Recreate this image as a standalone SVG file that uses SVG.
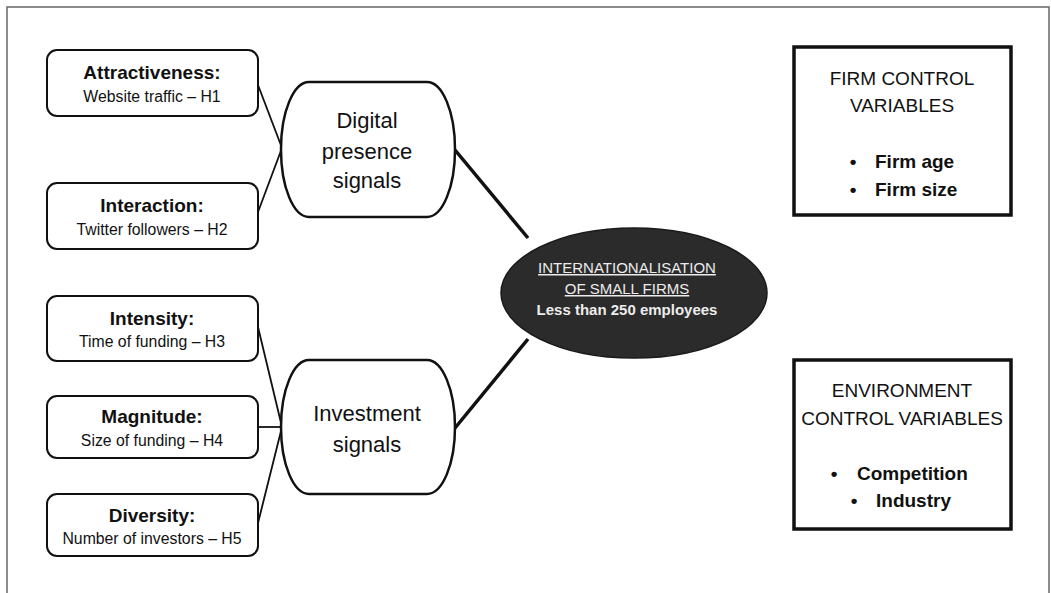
<svg xmlns="http://www.w3.org/2000/svg" width="1051" height="593" viewBox="0 0 1051 593">
<style>
text{font-family:"Liberation Sans",Arial,sans-serif;text-anchor:middle;fill:#111}
.box{fill:#fff;stroke:#111;stroke-width:2}
.sig{fill:#fff;stroke:#111;stroke-width:2.5}
.ctl{fill:#fff;stroke:#111;stroke-width:3.5}
.b{font-weight:bold;font-size:19px}
.s{font-size:15.8px}
.big{font-size:22px}
.c{font-size:19px}
.e{font-size:15px;fill:#ececec}
.thin{stroke:#111;stroke-width:1.8;fill:none}
.thick{stroke:#111;stroke-width:3.5;fill:none}
</style>
<rect x="7" y="7" width="1042" height="600" fill="#fff" stroke="#666" stroke-width="1.5"/>
<g id="connectors">
<line class="thin" x1="258" y1="85" x2="282" y2="148"/>
<line class="thin" x1="258" y1="212" x2="282" y2="148"/>
<line class="thin" x1="258" y1="327" x2="282" y2="427"/>
<line class="thin" x1="258" y1="427" x2="282" y2="427"/>
<line class="thin" x1="258" y1="523" x2="282" y2="427"/>
<line class="thick" x1="455" y1="150" x2="528" y2="238"/>
<line class="thick" x1="455" y1="428" x2="528" y2="339"/>
</g>
<g id="attractiveness">
<rect class="box" x="47" y="50" width="211" height="66" rx="10"/>
<text class="b" x="152" y="79">Attractiveness:</text>
<text class="s" x="152" y="102">Website traffic – H1</text>
</g>
<g id="interaction">
<rect class="box" x="47" y="183" width="211" height="66" rx="10"/>
<text class="b" x="152" y="212">Interaction:</text>
<text class="s" x="152" y="235">Twitter followers – H2</text>
</g>
<g id="intensity">
<rect class="box" x="47" y="296" width="211" height="65" rx="10"/>
<text class="b" x="152" y="325">Intensity:</text>
<text class="s" x="152" y="347">Time of funding – H3</text>
</g>
<g id="magnitude">
<rect class="box" x="47" y="396" width="211" height="62" rx="10"/>
<text class="b" x="152" y="423">Magnitude:</text>
<text class="s" x="152" y="446">Size of funding – H4</text>
</g>
<g id="diversity">
<rect class="box" x="47" y="494" width="211" height="62" rx="10"/>
<text class="b" x="152" y="522">Diversity:</text>
<text class="s" x="152" y="544">Number of investors – H5</text>
</g>
<g id="digital">
<rect class="sig" x="281" y="82" width="174" height="135" rx="28" ry="67"/>
<text class="big" x="367" y="128">Digital</text>
<text class="big" x="367" y="159">presence</text>
<text class="big" x="367" y="188">signals</text>
</g>
<g id="investment">
<rect class="sig" x="281" y="360" width="174" height="134" rx="28" ry="67"/>
<text class="big" x="367" y="421">Investment</text>
<text class="big" x="367" y="452">signals</text>
</g>
<g id="internationalisation">
<ellipse cx="634" cy="293" rx="133" ry="65" fill="#2b2b2b" stroke="#1a1a1a" stroke-width="1.5"/>
<text class="e" x="627" y="273" text-decoration="underline">INTERNATIONALISATION</text>
<text class="e" x="627" y="294" text-decoration="underline">OF SMALL FIRMS</text>
<text class="e" x="627" y="315" font-weight="bold">Less than 250 employees</text>
</g>
<g id="firm-controls">
<rect class="ctl" x="794" y="47" width="217" height="168"/>
<text class="c" x="902" y="85">FIRM CONTROL</text>
<text class="c" x="902" y="112">VARIABLES</text>
<text class="b" x="853" y="168">•</text>
<text class="b" x="875" y="168" style="text-anchor:start">Firm age</text>
<text class="b" x="853" y="196">•</text>
<text class="b" x="875" y="196" style="text-anchor:start">Firm size</text>
</g>
<g id="environment-controls">
<rect class="ctl" x="794" y="360" width="217" height="169"/>
<text class="c" x="902" y="397">ENVIRONMENT</text>
<text class="c" x="902" y="425">CONTROL VARIABLES</text>
<text class="b" x="834" y="480">•</text>
<text class="b" x="857" y="480" style="text-anchor:start">Competition</text>
<text class="b" x="854" y="507">•</text>
<text class="b" x="876" y="507" style="text-anchor:start">Industry</text>
</g>
</svg>
